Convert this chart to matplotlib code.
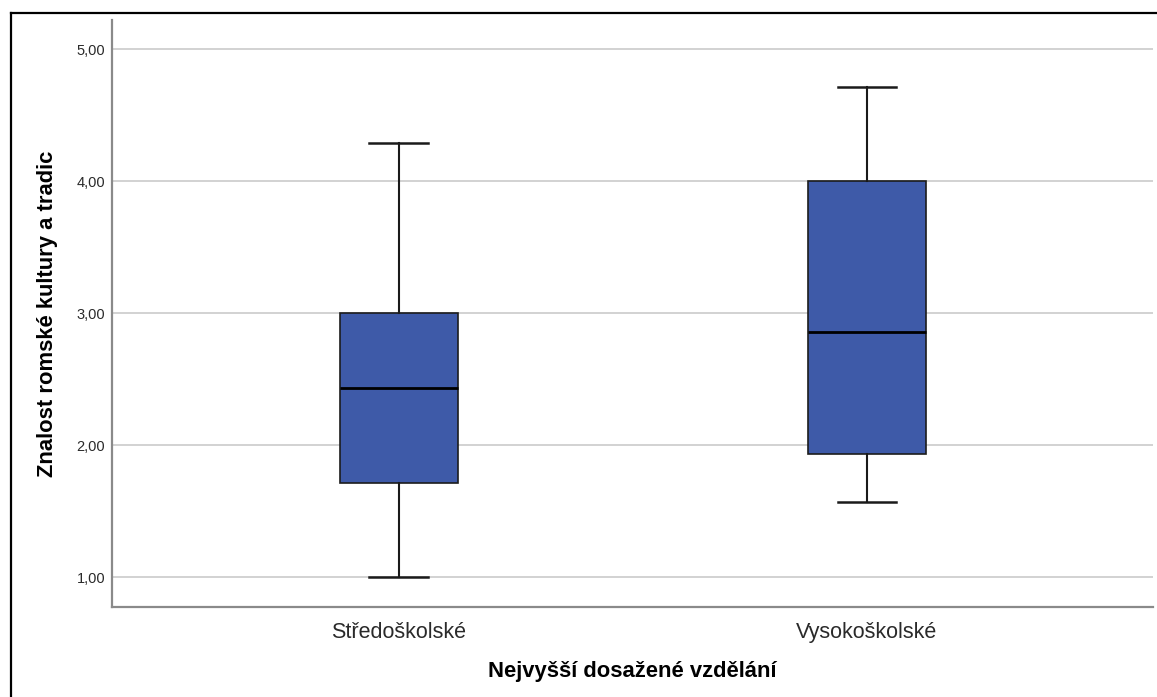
import matplotlib
matplotlib.use("Agg")
import matplotlib.pyplot as plt
from matplotlib.lines import Line2D

categories = ["Středoškolské", "Vysokoškolské"]
whisker_low = [1.00, 1.57]
q1 = [1.71, 1.93]
median = [2.43, 2.86]
q3 = [3.00, 4.00]
whisker_high = [4.29, 4.71]
y_ticks = [1.0, 2.0, 3.0, 4.0, 5.0]
y_tick_labels = ["1,00", "2,00", "3,00", "4,00", "5,00"]

plt.rcParams['font.family'] = ['Liberation Sans', 'DejaVu Sans']

fig = plt.figure(figsize=(11.57, 6.97), dpi=100)
ax = fig.add_axes([112/1157, 1-607/697, (1153-112)/1157, (607-20)/697])

stats = []
for i, c in enumerate(categories):
    stats.append(dict(label=c, whislo=whisker_low[i], q1=q1[i], med=median[i],
                      q3=q3[i], whishi=whisker_high[i], fliers=[]))

positions = [1, 2]
ax.bxp(stats, positions=positions, widths=0.252, patch_artist=True,
       showfliers=False,
       boxprops=dict(facecolor="#3e5aa8", edgecolor="#1c1c1c", linewidth=1.2),
       medianprops=dict(color="black", linewidth=2.0),
       whiskerprops=dict(color="#1a1a1a", linewidth=1.5),
       capprops=dict(color="#1a1a1a", linewidth=1.8),
       capwidths=0.126, zorder=3)

ax.set_xlim(0.387, 2.611)
ax.set_ylim(0.773, 5.22)
ax.set_yticks(y_ticks)
ax.set_yticklabels(y_tick_labels, fontsize=10.5, color="#2a2a2a")
ax.set_xticks(positions)
ax.set_xticklabels(categories, fontsize=15.5, color="#2a2a2a")
ax.tick_params(axis='y', length=0, pad=5)
ax.tick_params(axis='x', length=0, pad=11)
ax.yaxis.grid(True, color="#cfcfcf", linewidth=1.3, zorder=0)
ax.set_axisbelow(True)
for s in ["top", "right"]:
    ax.spines[s].set_visible(False)
for s in ["left", "bottom"]:
    ax.spines[s].set_color("#8a8a8a")
    ax.spines[s].set_linewidth(1.6)

ax.set_xlabel("Nejvyšší dosažené vzdělání", fontsize=15.8, fontweight="bold",
              labelpad=13)
ax.set_ylabel("Znalost romské kultury a tradic", fontsize=15.8, fontweight="bold",
              labelpad=13)

# outer frame (left and top edges)
fig.add_artist(Line2D([11/1157, 11/1157], [0, 1-13/697], transform=fig.transFigure,
                      color="black", linewidth=1.6))
fig.add_artist(Line2D([11/1157, 1], [1-13/697, 1-13/697], transform=fig.transFigure,
                      color="black", linewidth=1.6))

fig.savefig("out.png", dpi=100)
